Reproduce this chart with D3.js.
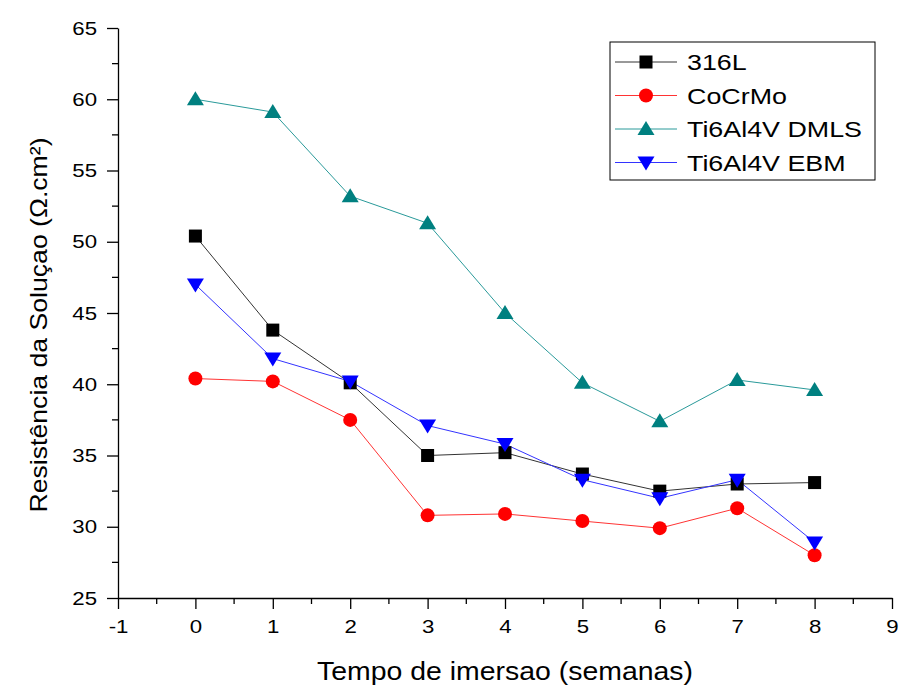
<!DOCTYPE html>
<html>
<head>
<meta charset="utf-8">
<script src="https://cdn.jsdelivr.net/npm/d3@7"></script>
<style>
  body { margin: 0; background: #fff; }
  svg text { font-family: "Liberation Sans", Arial, sans-serif; fill: #000; }
  .axis path, .axis line { stroke: #000; stroke-width: 1.3; }
</style>
</head>
<body>
<div id="chart"></div>
<script>
// semanas de imersao
var weeks = [0, 1, 2, 3, 4, 5, 6, 7, 8];

var s316L   = [50.4, 43.8, 40.1, 35.0, 35.2, 33.7, 32.5, 33.0, 33.1];
var sCoCrMo = [40.4, 40.2, 37.5, 30.8, 30.9, 30.4, 29.9, 31.3, 28.0];
var sDMLS   = [60.0, 59.1, 53.2, 51.3, 45.0, 40.1, 37.4, 40.3, 39.6];
var sEBM    = [47.0, 41.8, 40.2, 37.1, 35.8, 33.3, 32.0, 33.3, 28.9];

var seriesNames = ["316L", "CoCrMo", "Ti6Al4V DMLS", "Ti6Al4V EBM"];
var xTicks = [-1, 0, 1, 2, 3, 4, 5, 6, 7, 8, 9];
var yTicks = [25, 30, 35, 40, 45, 50, 55, 60, 65];

var series = [
  { name: seriesNames[0], values: s316L,   color: "#000000", line: "#333", shape: "square" },
  { name: seriesNames[1], values: sCoCrMo, color: "#ff0000", line: "#ff3333", shape: "circle" },
  { name: seriesNames[2], values: sDMLS,   color: "#008080", line: "#2a9a9a", shape: "up" },
  { name: seriesNames[3], values: sEBM,    color: "#0000ff", line: "#3333ff", shape: "down" }
];

var width = 906, height = 688;
var margin = { left: 118, right: 14, top: 28, bottom: 90 };

// the original font is wider than Liberation Sans
function widen(sel, k) {
  sel.each(function() {
    var w = this.getComputedTextLength();
    d3.select(this).attr("textLength", w * k).attr("lengthAdjust", "spacingAndGlyphs");
  });
}

var svg = d3.select("#chart").append("svg")
  .attr("width", width).attr("height", height);

var x = d3.scaleLinear().domain([-1, 9]).range([margin.left, width - margin.right]);
var y = d3.scaleLinear().domain([25, 65]).range([height - margin.bottom, margin.top]);

// minor ticks
var xMinor = d3.range(-0.5, 9, 1);
var yMinor = d3.range(27.5, 65, 5);

svg.append("g").attr("class", "axis")
  .selectAll("line.minor").data(xMinor).enter().append("line")
  .attr("x1", function(d) { return x(d); }).attr("x2", function(d) { return x(d); })
  .attr("y1", y(25)).attr("y2", y(25) + 6);

svg.append("g").attr("class", "axis")
  .selectAll("line.minor").data(yMinor).enter().append("line")
  .attr("y1", function(d) { return y(d); }).attr("y2", function(d) { return y(d); })
  .attr("x1", x(-1)).attr("x2", x(-1) - 6);

var xAxis = svg.append("g").attr("class", "axis")
  .attr("transform", "translate(0," + y(25) + ")")
  .call(d3.axisBottom(x).tickValues(xTicks).tickSize(11).tickSizeOuter(0).tickPadding(11)
    .tickFormat(function(d) { return String(d); }));
xAxis.selectAll("text").style("font-size", "19px");
widen(xAxis.selectAll("text"), 1.17);

var yAxis = svg.append("g").attr("class", "axis")
  .attr("transform", "translate(" + x(-1) + ",0)")
  .call(d3.axisLeft(y).tickValues(yTicks).tickSize(11).tickSizeOuter(0).tickPadding(10));
yAxis.selectAll("text").style("font-size", "19px");
widen(yAxis.selectAll("text"), 1.17);

svg.append("text")
  .attr("x", (x(-1) + x(9)) / 2).attr("y", 680)
  .attr("text-anchor", "middle").style("font-size", "25px")
  .attr("textLength", 376).attr("lengthAdjust", "spacingAndGlyphs")
  .text("Tempo de imersao (semanas)");

svg.append("text")
  .attr("transform", "translate(47,325) rotate(-90)")
  .attr("text-anchor", "middle").style("font-size", "24px")
  .attr("textLength", 375).attr("lengthAdjust", "spacingAndGlyphs")
  .text("Resistência da Soluçao (Ω.cm²)");

function drawMarker(g, shape, color) {
  if (shape === "square") {
    g.append("rect").attr("x", -6.5).attr("y", -6.5).attr("width", 13).attr("height", 13).attr("fill", color);
  } else if (shape === "circle") {
    g.append("circle").attr("r", 7).attr("fill", color);
  } else if (shape === "up") {
    g.append("path").attr("d", "M0,-8L8.5,6L-8.5,6Z").attr("fill", color);
  } else {
    g.append("path").attr("d", "M0,8L8.5,-6L-8.5,-6Z").attr("fill", color);
  }
}

var line = d3.line()
  .x(function(d, i) { return x(weeks[i]); })
  .y(function(d) { return y(d); });

series.forEach(function(s) {
  svg.append("path").datum(s.values)
    .attr("d", line).attr("fill", "none")
    .attr("stroke", s.line).attr("stroke-width", 1);
});

series.forEach(function(s) {
  s.values.forEach(function(v, i) {
    var g = svg.append("g").attr("transform", "translate(" + x(weeks[i]) + "," + y(v) + ")");
    drawMarker(g, s.shape, s.color);
  });
});

// legend
var legend = svg.append("g").attr("transform", "translate(610,42)");
legend.append("rect").attr("width", 265).attr("height", 138)
  .attr("fill", "#fff").attr("stroke", "#000").attr("stroke-width", 1);

series.forEach(function(s, i) {
  var ly = 20 + i * 33.5;
  legend.append("line").attr("x1", 5).attr("x2", 67).attr("y1", ly).attr("y2", ly)
    .attr("stroke", s.line).attr("stroke-width", 1);
  var g = legend.append("g").attr("transform", "translate(36," + ly + ")");
  drawMarker(g, s.shape, s.color);
  var t = legend.append("text").attr("x", 77).attr("y", ly + 8)
    .style("font-size", "22px").text(s.name);
  widen(t, 1.22);
});
</script>
</body>
</html>
